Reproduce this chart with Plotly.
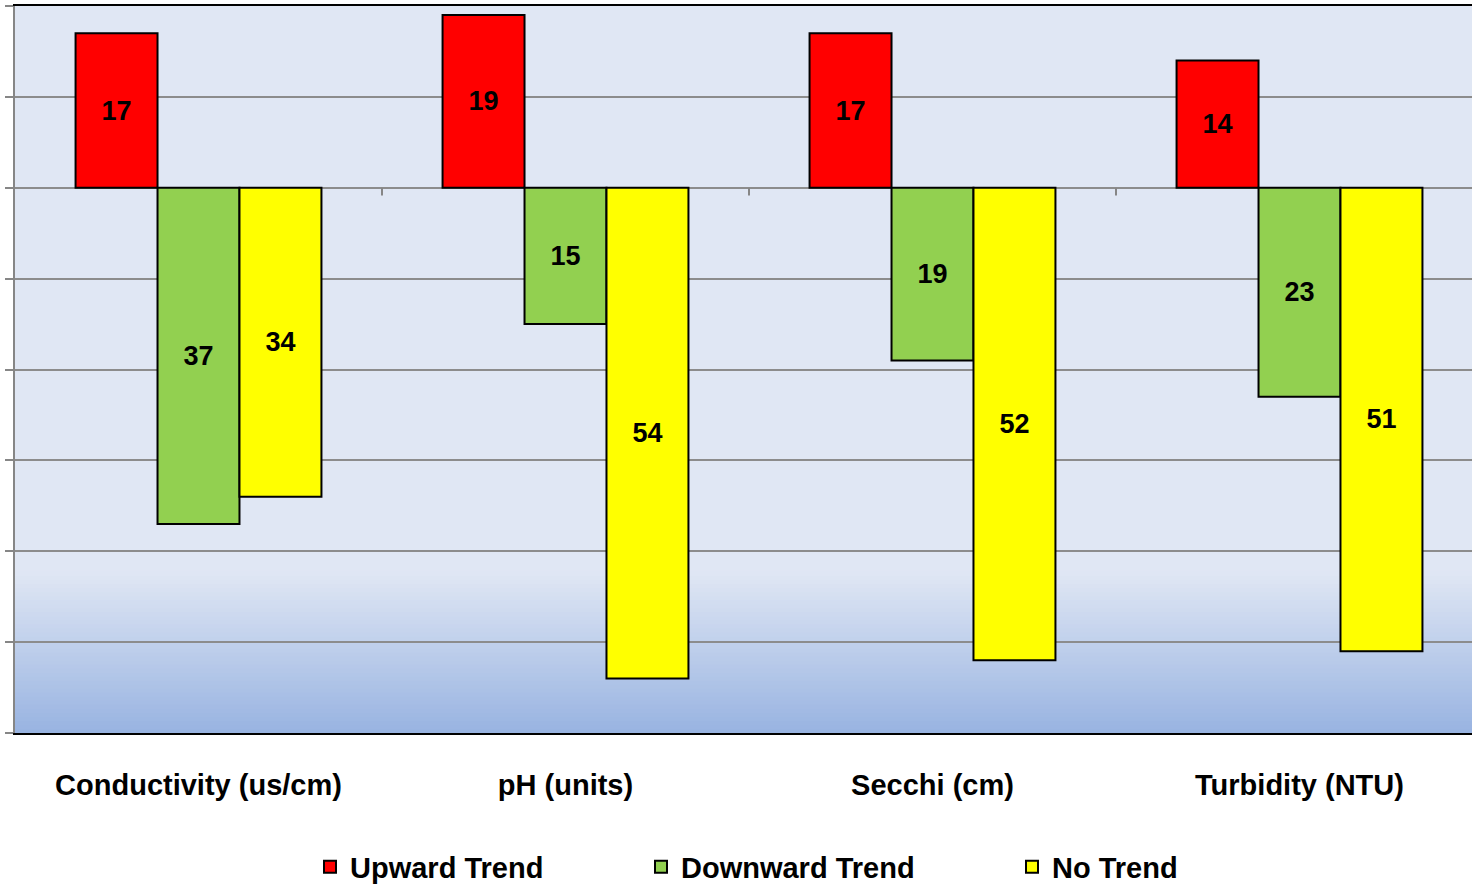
import plotly.graph_objects as go

categories = ["Conductivity (us/cm)", "pH (units)", "Secchi (cm)", "Turbidity (NTU)"]
series_names = ["Upward Trend", "Downward Trend", "No Trend"]
upward = [17, 19, 17, 14]
downward = [37, 15, 19, 23]
no_trend = [34, 54, 52, 51]
y_ticks = [-60, -50, -40, -30, -20, -10, 0, 10, 20]

colors = ["#FF0000", "#92D050", "#FFFF00"]
signs = [1, -1, -1]
series = [upward, downward, no_trend]

FONT = "Liberation Sans, Arial, sans-serif"

fig = go.Figure()
legend_keys = ["legend", "legend2", "legend3"]
for name, vals, col, sgn, lg in zip(series_names, series, colors, signs, legend_keys):
    fig.add_trace(go.Bar(
        x=categories,
        y=[sgn * v for v in vals],
        name=name,
        text=[str(v) for v in vals],
        textposition="inside",
        insidetextanchor="middle",
        textangle=0,
        constraintext="none",
        textfont=dict(family=FONT, size=27, color="black", weight="bold"),
        marker=dict(color=col, line=dict(color="black", width=2)),
        legend=lg,
    ))

W, H = 1472, 884
L, R, T, B = 15, 0, 6, 151
plot_h = H - T - B

# gradient background strips (paper coords)
top_rgb = (224, 231, 244)
bot_rgb = (152, 179, 225)
g_start_px = 572
n = 40
shapes = []
y0p = (H - B - g_start_px) / plot_h
for i in range(n):
    f0 = i / n
    f1 = (i + 1) / n
    c = tuple(int(round(top_rgb[k] + (bot_rgb[k] - top_rgb[k]) * (1 - (i + 0.5) / n))) for k in range(3))
    shapes.append(dict(
        type="rect", xref="paper", yref="paper", layer="below",
        x0=0, x1=1, y0=y0p * f0, y1=y0p * f1 + 0.002,
        fillcolor="rgb(%d,%d,%d)" % c, line=dict(width=0),
    ))

# small tick marks on the category axis (at y=0) between categories
for i in range(len(categories) - 1):
    shapes.append(dict(
        type="line", xref="x", yref="y", layer="above",
        x0=i + 0.5, x1=i + 0.5, y0=0, y1=-0.85,
        line=dict(color="#868686", width=2),
    ))

fig.update_layout(
    width=W, height=H,
    margin=dict(l=L, r=R, t=T, b=B, pad=0, autoexpand=False),
    paper_bgcolor="white",
    plot_bgcolor="rgb(224,231,244)",
    barmode="group",
    bargap=0.33,
    bargroupgap=0,
    shapes=shapes,
    font=dict(family=FONT, color="black"),
    showlegend=True,
    xaxis=dict(
        range=[-0.5, -0.5 + (W - L) / 367.0],
        showline=True, linecolor="black", linewidth=2, mirror=True,
        ticks="", ticklen=0,
        showgrid=False,
        tickfont=dict(family=FONT, size=29, color="black", weight="bold"),
        ticklabelstandoff=25,
        fixedrange=True,
    ),
    yaxis=dict(
        range=[-60, 20],
        tickvals=y_ticks,
        showticklabels=False,
        ticks="outside", ticklen=8, tickwidth=2, tickcolor="#868686",
        showline=True, linecolor="#868686", linewidth=2,
        showgrid=True, gridcolor="#8C8C8C", gridwidth=2,
        zeroline=True, zerolinecolor="#8C8C8C", zerolinewidth=2,
        fixedrange=True,
    ),
)

legend_x_px = [310, 641, 1012]
ly = (H - B - 867) / plot_h
for key, xp in zip(legend_keys, legend_x_px):
    fig.update_layout(**{key: dict(
        orientation="h",
        x=(xp - L) / (W - L), xanchor="left",
        y=ly, yanchor="middle",
        bgcolor="rgba(0,0,0,0)",
        font=dict(family=FONT, size=29, color="black", weight="bold"),
        itemwidth=30,
        borderwidth=0,
    )})

fig.write_html(
    "out.html",
    config={"displayModeBar": False},
    post_script="document.body.style.margin='0';document.body.style.overflow='hidden';",
)
